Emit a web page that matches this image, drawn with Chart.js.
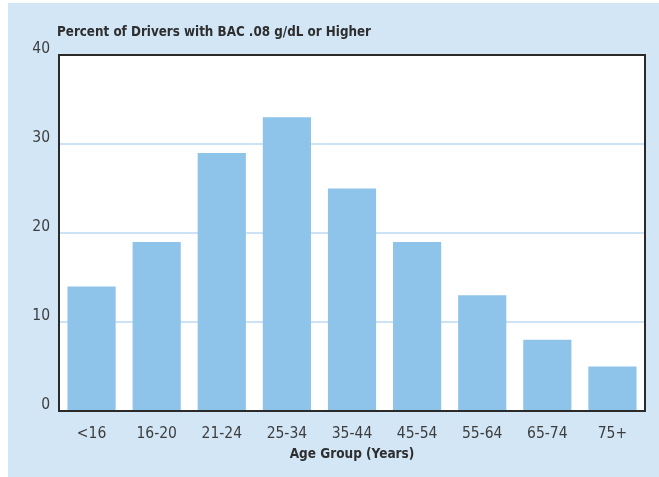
<!DOCTYPE html>
<html>
<head>
<meta charset="utf-8">
<script src="https://cdn.jsdelivr.net/npm/chart.js@4.4.0/dist/chart.umd.min.js"></script>
<style>
  body { margin: 0; background: #fff; }
  #wrap { width: 659px; height: 477px; position: relative; }
</style>
</head>
<body>
<div id="wrap"><canvas id="myChart"></canvas></div>
<script>
// Share of drivers at BAC .08+ by age group
const ageGroups = ['<16', '16-20', '21-24', '25-34', '35-44', '45-54', '55-64', '65-74', '75+'];
const percentHigh = [14, 19, 29, 33, 25, 19, 13, 8, 5];
const yTicks = [0, 10, 20, 30, 40];

const chartTitle = 'Percent of Drivers with BAC .08 g/dL or Higher';
const fontFamily = '"Liberation Sans Narrow", "DejaVu Sans Condensed", Arial, sans-serif';
const textColor = '#3d3d3d';

// panel background, white plot box, frame and title
const panel = {
  id: 'panel',
  beforeDraw(chart) {
    const { ctx, chartArea: a } = chart;
    ctx.save();
    ctx.fillStyle = '#d3e6f6';
    ctx.fillRect(8, 3, chart.width - 8, chart.height - 3);
    ctx.fillStyle = '#ffffff';
    ctx.fillRect(a.left, a.top, a.right - a.left, a.bottom - a.top);
    ctx.restore();
  },
  afterDatasetsDraw(chart) {
    const { ctx, chartArea: a } = chart;
    ctx.save();
    ctx.strokeStyle = '#2a2a2a';
    ctx.lineWidth = 2;
    ctx.strokeRect(a.left, a.top, a.right - a.left, a.bottom - a.top);
    ctx.fillStyle = '#2e2e2e';
    ctx.font = 'bold 13.3px ' + fontFamily;
    ctx.textBaseline = 'middle';
    ctx.textAlign = 'left';
    ctx.fillText(chartTitle, a.left - 2, 33);
    ctx.restore();
  }
};

const ctx = document.getElementById('myChart');

const myChart = new Chart(ctx, {
  type: 'bar',
  data: {
    labels: ageGroups,
    datasets: [{
      data: percentHigh,
      backgroundColor: '#8ec4ea',
      borderWidth: 0,
      categoryPercentage: 1,
      barPercentage: 0.74
    }]
  },
  options: {
    responsive: true,
    maintainAspectRatio: false,
    animation: false,
    layout: {
      padding: { left: 8, right: 14, top: 55, bottom: 0 }
    },
    plugins: {
      legend: { display: false },
      tooltip: { enabled: false }
    },
    scales: {
      x: {
        grid: { display: false, drawTicks: false },
        border: { display: false },
        ticks: {
          color: textColor,
          font: { family: fontFamily, size: 15.5 },
          padding: 14,
          maxRotation: 0
        },
        title: {
          display: true,
          text: 'Age Group (Years)',
          color: '#2e2e2e',
          font: { family: fontFamily, size: 13.5, weight: 'bold' },
          padding: { top: 0, bottom: 14 }
        },
        afterFit(scale) { scale.height = 66; }
      },
      y: {
        min: 0,
        max: 40,
        afterBuildTicks(scale) { scale.ticks = yTicks.map(v => ({ value: v })); },
        grid: {
          drawTicks: false,
          color: (c) => (c.tick && (c.tick.value === 0 || c.tick.value === 40)) ? 'rgba(0,0,0,0)' : '#cde2f4',
          lineWidth: 2
        },
        border: { display: false },
        ticks: {
          color: textColor,
          font: { family: fontFamily, size: 15.5 },
          padding: 9,
          labelOffset: -6
        },
        afterFit(scale) { scale.width = 51; }
      }
    }
  },
  plugins: [panel]
});
</script>
</body>
</html>
